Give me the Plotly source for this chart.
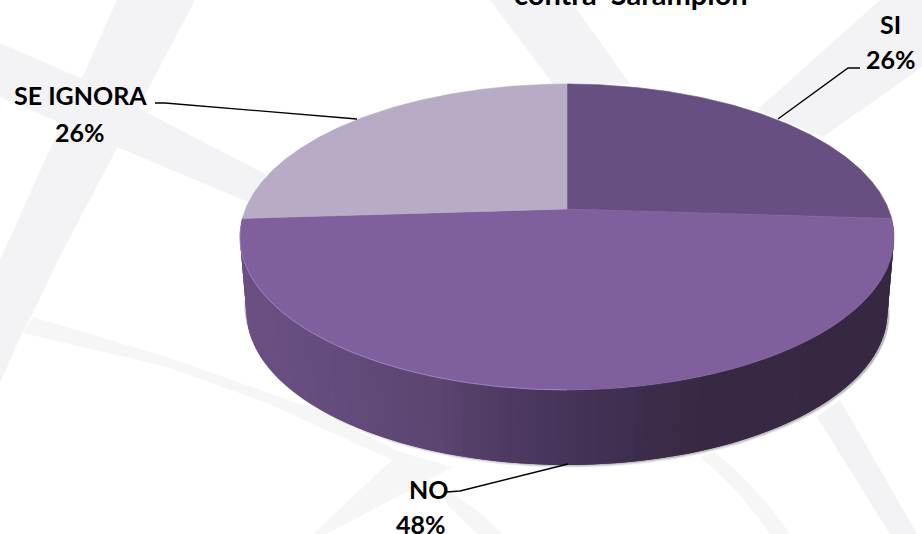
import numpy as np
import plotly.graph_objects as go

categories = ["SI", "NO", "SE IGNORA"]
values = [26, 48, 26]
slice_colors = ["#674F81", "#7F609D", "#B7ABC6"]
title_text = "contra  Sarampión"

W, H = 922, 534
CX, CY, R, A, K = 567, 209, 321.5, 109.6, 0.183
DEPTH, BOTTOM_SCALE = 75, 0.98


def project(theta):
    u, v = np.sin(theta), np.cos(theta)
    d = 1 + K * v
    return CX + R * u / d, (CY - A * v) / d


def lower(theta, extra=0.0):
    x, y = project(theta)
    return CX + (x - CX) * BOTTOM_SCALE, y + DEPTH + extra


def wall_color(x):
    xs = [250, 300, 440, 500, 600, 700, 900]
    rs = [0x6B, 0x67, 0x5C, 0x4F, 0x42, 0x38, 0x37]
    gs = [0x50, 0x4E, 0x45, 0x3B, 0x31, 0x29, 0x28]
    bs = [0x84, 0x80, 0x70, 0x64, 0x54, 0x44, 0x42]
    return "rgb(%d,%d,%d)" % (np.interp(x, xs, rs), np.interp(x, xs, gs), np.interp(x, xs, bs))


fracs = np.cumsum([0] + values) / sum(values)
angles = fracs * 2 * np.pi
fig = go.Figure()
common = dict(mode="lines", hoverinfo="skip", showlegend=False)

# soft shadow below the wall
t0, t1 = angles[1], angles[2]
ts = np.linspace(t0, t1, 240)
for extra, alpha in [(3.0, 0.08), (2.0, 0.14), (1.0, 0.25)]:
    xb, yb = lower(ts, extra)
    fig.add_trace(go.Scatter(x=np.r_[xb + 2, xb[::-1] - 2], y=np.r_[yb, yb[::-1] - 8], fill="toself",
                             fillcolor=f"rgba(90,90,90,{alpha})", line=dict(width=0), **common))

# side wall of the front slice, as overlapping strips so no seams appear
edges = np.linspace(t0, t1, 121)
step = edges[1] - edges[0]
for a in edges[:-1]:
    tt = np.linspace(a, min(a + 2 * step, t1), 4)
    xt, yt = project(tt)
    xl, yl = lower(tt)
    col = wall_color(project(a + step / 2)[0])
    fig.add_trace(go.Scatter(x=np.r_[xt, xl[::-1], xt[0]], y=np.r_[yt, yl[::-1], yt[0]],
                             fill="toself", fillcolor=col, line=dict(width=0), **common))

# top faces
for cat, col, a, b in zip(categories, slice_colors, angles[:-1], angles[1:]):
    tt = np.linspace(a, b, 200)
    xt, yt = project(tt)
    fig.add_trace(go.Scatter(x=np.r_[CX, xt, CX], y=np.r_[CY, yt, CY], fill="toself", fillcolor=col,
                             line=dict(color=col, width=0.6), name=cat, mode="lines", hoverinfo="skip",
                             showlegend=False))

# bright rim on the lower-left front edge
tr = np.linspace(np.pi, angles[2] - 0.05, 200)
xr, yr = project(tr)
fig.add_trace(go.Scatter(x=xr, y=yr, line=dict(color="rgba(165,140,205,0.7)", width=1), **common))

# leader lines
leaders = [([778, 848, 860], [119, 68, 68]),
           ([155, 165, 357], [103, 103, 119]),
           ([447, 460, 568], [492, 491, 464])]
for lx, ly in leaders:
    fig.add_trace(go.Scatter(x=lx, y=ly, line=dict(color="#000000", width=1.4), **common))

bg = "#F3F3F5"
thin = "#F6F6F7"
bands = [
    ("M117,0 L195,0 L58,260 L33,313 L22,333 L0,383 L0,260 Z", bg),
    ("M0,43 L78,77 L267,175 L248,202 L117,147 L0,97 Z", bg),
    ("M490,0 L570,0 L630,84 L553,84 Z", bg),
    ("M880,0 L922,0 L922,67 L823,137 L757,110 Z", bg),
    ("M33,317 L167,357 L317,410 L400,452 L453,467 L327,534 L313,534 L392,460 L267,403 L167,367 L23,333 Z", thin),
    ("M700,457 L715,452 Q760,490 790,534 L770,534 Q740,490 700,457 Z", thin),
    ("M817,417 L840,400 L917,534 L890,534 Z", bg),
    ("M447,490 L480,513 L503,534 L478,534 L447,505 Z", thin),
]
shapes = [dict(type="path", path=p, fillcolor=c, line=dict(width=0), layer="below") for p, c in bands]

label_font = dict(family="Lato", size=25, color="#000000")
pct = [f"{round(100 * v / sum(values))}%" for v in values]
label_pos = {"SI": ((890, 24), (891, 59)), "NO": ((428, 489), (421, 524)), "SE IGNORA": ((80, 95), (80, 132))}
annotations = []
for cat, p in zip(categories, pct):
    (x1, y1), (x2, y2) = label_pos[cat]
    annotations.append(dict(x=x1, y=y1, text=f"<b>{cat}</b>", showarrow=False, font=label_font))
    annotations.append(dict(x=x2, y=y2, text=f"<b>{p}</b>", showarrow=False, font=label_font))
annotations.append(dict(x=631, y=13, yanchor="bottom", text=f"<b>{title_text}</b>", showarrow=False,
                        font=dict(family="Lato", size=29, color="#000000")))

fig.update_layout(
    width=W, height=H, margin=dict(l=0, r=0, t=0, b=0), paper_bgcolor="#FFFFFF", plot_bgcolor="#FFFFFF",
    xaxis=dict(range=[0, W], visible=False, fixedrange=True),
    yaxis=dict(range=[H, 0], visible=False, fixedrange=True),
    shapes=shapes, annotations=annotations, showlegend=False,
)
fig.write_html("out.html", config=dict(displayModeBar=False),
               post_script="document.body.style.margin='0';document.body.style.overflow='hidden';")
